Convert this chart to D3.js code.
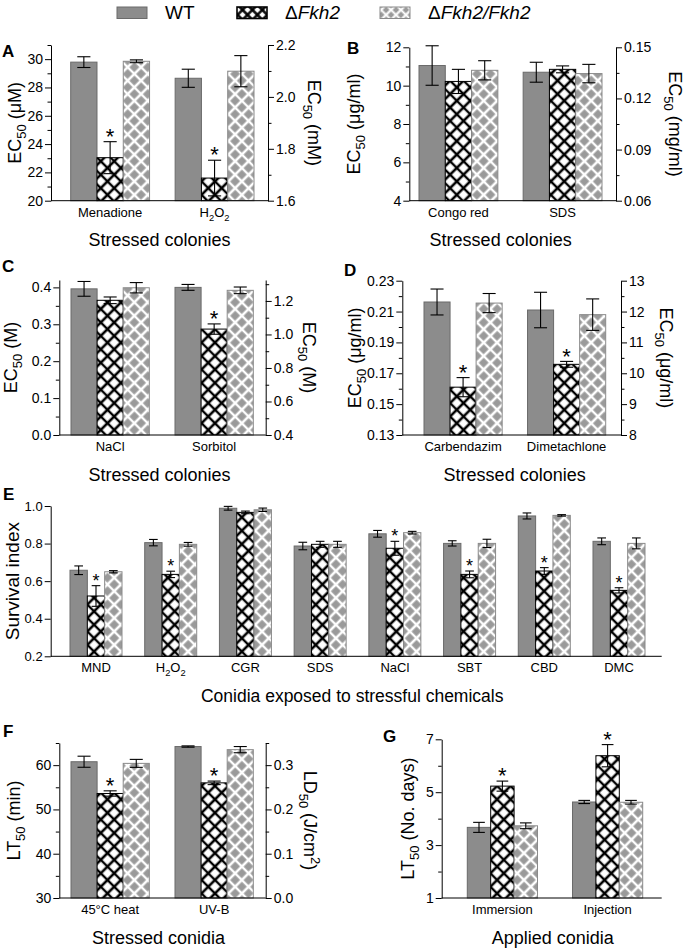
<!DOCTYPE html>
<html>
<head>
<meta charset="utf-8">
<script src="https://cdn.jsdelivr.net/npm/d3@7"></script>
<style>
  body { margin: 0; background: #fff; }
  svg { display: block; font-family: "Liberation Sans", Arial, sans-serif; }
</style>
</head>
<body>
<svg id="chart" width="685" height="952"></svg>
<script>
// ---- data (mean and error per category: WT, dFkh2, dFkh2/Fkh2) ----
const seriesNames = ["WT", "ΔFkh2", "ΔFkh2/Fkh2"];

const catsA = ["Menadione", "H2O2"];
const meanA = [[29.79, 23.04, 29.85], [28.65, 21.6, 29.15]];
const errA  = [[0.38, 1.13, 0.1], [0.64, 1.26, 1.1]];
const sigA  = [1, 1];
const ticksA = [20, 22, 24, 26, 28, 30];
const rTicksA = [1.6, 1.8, 2.0, 2.2];

const catsB = ["Congo red", "SDS"];
const meanB = [[11.05, 10.22, 10.8], [10.7, 10.85, 10.63]];
const errB  = [[1.03, 0.63, 0.5], [0.52, 0.18, 0.48]];
const sigB  = [0, 0];
const ticksB = [4, 6, 8, 10, 12];
const rTicksB = [0.06, 0.09, 0.12, 0.15];

const catsC = ["NaCl", "Sorbitol"];
const meanC = [[0.396, 0.365, 0.399], [0.400, 0.287, 0.392]];
const errC  = [[0.02, 0.009, 0.014], [0.008, 0.014, 0.009]];
const sigC  = [0, 1];
const ticksC = [0.0, 0.1, 0.2, 0.3, 0.4];
const rTicksC = [0.4, 0.6, 0.8, 1.0, 1.2];

const catsD = ["Carbendazim", "Dimetachlone"];
const meanD = [[0.2162, 0.161, 0.2155], [0.211, 0.1758, 0.208]];
const errD  = [[0.0084, 0.0062, 0.0062], [0.0115, 0.0019, 0.0102]];
const sigD  = [1, 1];
const ticksD = [0.13, 0.15, 0.17, 0.19, 0.21, 0.23];
const rTicksD = [8, 9, 10, 11, 12, 13];

const catsE = ["MND", "H2O2", "CGR", "SDS", "NaCl", "SBT", "CBD", "DMC"];
const meanE = [[0.658, 0.521, 0.650], [0.805, 0.636, 0.796], [0.988, 0.966, 0.980], [0.787, 0.796, 0.796],
               [0.852, 0.775, 0.858], [0.801, 0.636, 0.801], [0.947, 0.654, 0.950], [0.812, 0.551, 0.801]];
const errE  = [[0.023, 0.055, 0.006], [0.017, 0.017, 0.01], [0.01, 0.007, 0.009], [0.02, 0.016, 0.016],
               [0.018, 0.037, 0.007], [0.014, 0.018, 0.022], [0.016, 0.018, 0.004], [0.018, 0.014, 0.029]];
const sigE  = [1, 1, 0, 0, 1, 1, 1, 1];
const ticksE = [0.2, 0.4, 0.6, 0.8, 1.0];

const catsF = ["45°C heat", "UV-B"];
const meanF = [[60.77, 53.6, 60.4], [64.2, 56.0, 63.5]];
const errF  = [[1.25, 0.6, 0.9], [0.15, 0.4, 0.7]];
const sigF  = [1, 1];
const ticksF = [30, 40, 50, 60];
const rTicksF = [0.0, 0.1, 0.2, 0.3];

const catsG = ["Immersion", "Injection"];
const meanG = [[3.67, 5.23, 3.73], [4.63, 6.38, 4.62]];
const errG  = [[0.19, 0.19, 0.11], [0.06, 0.42, 0.07]];
const sigG  = [1, 1];
const ticksG = [1, 3, 5, 7];

const markup = { "H2O2": "H_{2}O_{2}" };

const svg = d3.select("#chart");
const defs = svg.append("defs");

function hatch(id, size, bg, fg, sw) {
  const p = defs.append("pattern").attr("id", id)
    .attr("patternUnits", "userSpaceOnUse")
    .attr("width", size).attr("height", size)
    .attr("patternTransform", "rotate(45)");
  p.append("rect").attr("width", size).attr("height", size).attr("fill", bg);
  p.append("path").attr("d", `M0,${size/2}H${size}M${size/2},0V${size}`)
    .attr("stroke", fg).attr("stroke-width", sw);
}
hatch("pX", 9.5, "#fff", "#000", 2.6);
hatch("pC", 9.5, "#9a9a9a", "#fff", 2.6);
hatch("pXs", 7, "#fff", "#000", 2.4);
hatch("pCs", 7, "#9a9a9a", "#fff", 2.2);

const fills = ["#8c8c8c", "url(#pX)", "url(#pC)"];
const strokes = ["#6a6a6a", "#000", "#8a8a8a"];

// text with _{sub} and ^{sup} parts
function rich(t, str) {
  const fs = parseFloat(t.attr("font-size"));
  const parts = str.split(/(_\{[^}]*\}|\^\{[^}]*\})/).filter(s => s.length);
  let shift = 0;
  parts.forEach(s => {
    let txt = s, off = 0, small = false;
    if (s.startsWith("_{")) { txt = s.slice(2, -1); off = 0.3; small = true; }
    else if (s.startsWith("^{")) { txt = s.slice(2, -1); off = -0.4; small = true; }
    const ts = t.append("tspan").text(txt);
    if (off - shift !== 0) ts.attr("dy", ((off - shift) * fs).toFixed(2));
    if (small) ts.attr("font-size", fs * 0.72);
    shift = off;
  });
  return t;
}

function minorsOf(dom, step, majors) {
  if (!step) return [];
  const out = [];
  const n = Math.round((dom[1] - dom[0]) / step + 1e-6);
  for (let i = 0; i <= n; i++) {
    const v = +(dom[0] + i * step).toFixed(6);
    if (!majors.some(m => Math.abs(m - v) < step / 10)) out.push(v);
  }
  return out;
}

function styleAxis(a, fs) {
  a.attr("font-family", null).attr("font-size", fs);
  a.selectAll("path, line").attr("stroke", "#000").attr("stroke-width", 1);
  a.selectAll("text").attr("fill", "#000");
}

const panels = [
  { letter: "A", lx: 2, ly: 57, cats: catsA, mean: meanA, err: errA, sig: sigA,
    x0: 51, x1: 268, b0: 70.7, b1: 254, pad: 0.245, yTop: 45, yBot: 200.7,
    dom: [20, 31], ticks: ticksA, minor: 1, fmt: d3.format("d"),
    rDom: [1.6, 2.2], rTicks: rTicksA, rMinor: 0.1, rFmt: d3.format(".1f"),
    ylab: "EC_{50} (μM)", ylx: 21, rlab: "EC_{50} (mM)", rlx: 308,
    xtitle: "Stressed colonies", tdx: 0 },
  { letter: "B", lx: 347, ly: 54, cats: catsB, mean: meanB, err: errB, sig: sigB,
    x0: 409.3, x1: 616, b0: 419, b1: 602, pad: 0.243, yTop: 47.3, yBot: 200.7,
    dom: [4, 12], ticks: ticksB, minor: 1, fmt: d3.format("d"),
    rDom: [0.06, 0.15], rTicks: rTicksB, rMinor: 0.015, rFmt: d3.format(".2f"),
    ylab: "EC_{50} (μg/ml)", ylx: 360, rlab: "EC_{50} (mg/ml)", rlx: 669,
    xtitle: "Stressed colonies", tdx: -12 },
  { letter: "C", lx: 2, ly: 272, cats: catsC, mean: meanC, err: errC, sig: sigC,
    x0: 59.3, x1: 265.7, b0: 71, b1: 253.3, pad: 0.247, yTop: 280, yBot: 435,
    dom: [0, 0.42], ticks: ticksC, minor: 0.05, fmt: d3.format(".1f"),
    rDom: [0.4, 1.325], rTicks: rTicksC, rMinor: 0.1, rFmt: d3.format(".1f"),
    ylab: "EC_{50} (M)", ylx: 17, rlab: "EC_{50} (M)", rlx: 303,
    xtitle: "Stressed colonies", tdx: -3 },
  { letter: "D", lx: 344, ly: 276, cats: catsD, mean: meanD, err: errD, sig: sigD,
    x0: 402.3, x1: 621, b0: 424, b1: 605.7, pad: 0.245, yTop: 280.7, yBot: 435,
    dom: [0.13, 0.23], ticks: ticksD, minor: 0.01, fmt: d3.format(".2f"),
    rDom: [8, 13], rTicks: rTicksD, rMinor: 0.5, rFmt: d3.format("d"),
    ylab: "EC_{50} (μg/ml)", ylx: 360.5, rlab: "EC_{50} (μg/ml)", rlx: 660,
    xtitle: "Stressed colonies", tdx: 3 },
  { letter: "E", lx: 3, ly: 500, cats: catsE, mean: meanE, err: errE, sig: sigE,
    x0: 50.7, x1: 661.7, b0: 70, b1: 645, pad: 0.304, yTop: 506, yBot: 656.3,
    dom: [0.2, 1.0], ticks: ticksE, minor: 0, fmt: d3.format(".1f"),
    ylab: "Survival index", ylx: 19, ylfs: 19, tickFs: 13, starFs: 18,
    xtitle: "Conidia exposed to stressful chemicals", tdx: -4, tfs: 17.5 },
  { letter: "F", lx: 3, ly: 737, cats: catsF, mean: meanF, err: errF, sig: sigF,
    x0: 59.3, x1: 265.7, b0: 71, b1: 253.3, pad: 0.247, yTop: 743, yBot: 898,
    dom: [30, 65], ticks: ticksF, minor: 5, fmt: d3.format("d"),
    rDom: [0, 0.35], rTicks: rTicksF, rMinor: 0.05, rFmt: d3.format(".1f"),
    ylab: "LT_{50} (min)", ylx: 20, rlab: "LD_{50} (J/cm^{2})", rlx: 304,
    xtitle: "Stressed conidia", tdx: -4 },
  { letter: "G", lx: 383, ly: 742, cats: catsG, mean: meanG, err: errG, sig: sigG,
    x0: 441.7, x1: 661.7, b0: 467.3, b1: 642.7, pad: 0.333, yTop: 739.3, yBot: 898,
    dom: [1, 7], ticks: ticksG, minor: 1, fmt: d3.format("d"),
    ylab: "LT_{50} (No. days)", ylx: 414,
    xtitle: "Applied conidia", tdx: 1 }
];

function drawPanel(p) {
  const g = svg.append("g").attr("class", "panel-" + p.letter);
  const tickFs = p.tickFs || 14;
  const starFs = p.starFs || 22;

  const y = d3.scaleLinear().domain(p.dom).range([p.yBot, p.yTop]);
  const xg = d3.scaleBand().domain(p.cats).range([p.b0, p.b1]).paddingInner(p.pad).paddingOuter(0);
  const xs = d3.scaleBand().domain(d3.range(seriesNames.length)).range([0, xg.bandwidth()]);
  const bw = xs.bandwidth();

  const rows = p.cats.flatMap((c, i) => p.mean[i].map((m, j) => ({
    c, j, m, e: p.err[i][j], sig: j === 1 && p.sig[i]
  })));

  g.selectAll("rect.bar").data(rows).join("rect")
    .attr("class", "bar")
    .attr("x", d => xg(d.c) + xs(d.j))
    .attr("y", d => y(d.m))
    .attr("width", bw)
    .attr("height", d => y(p.dom[0]) - y(d.m))
    .attr("fill", d => fills[d.j])
    .attr("stroke", d => strokes[d.j])
    .attr("stroke-width", 1);

  // error bars
  const cap = bw * 0.5;
  const eb = g.selectAll("g.err").data(rows).join("g").attr("class", "err")
    .attr("transform", d => `translate(${xg(d.c) + xs(d.j) + bw / 2},0)`)
    .attr("stroke", "#000").attr("stroke-width", 1.1);
  eb.append("line").attr("y1", d => y(d.m + d.e)).attr("y2", d => y(d.m - d.e));
  eb.append("line").attr("x1", -cap / 2).attr("x2", cap / 2)
    .attr("y1", d => y(d.m + d.e)).attr("y2", d => y(d.m + d.e));
  eb.append("line").attr("x1", -cap / 2).attr("x2", cap / 2)
    .attr("y1", d => y(d.m - d.e)).attr("y2", d => y(d.m - d.e));

  // significance marks
  g.selectAll("text.star").data(rows.filter(d => d.sig)).join("text")
    .attr("class", "star")
    .attr("x", d => xg(d.c) + xs(d.j) + bw / 2)
    .attr("y", d => y(d.m + d.e) + starFs * 0.28 - 4)
    .attr("text-anchor", "middle")
    .attr("font-size", starFs)
    .text("*");

  // left axis
  const la = g.append("g").attr("transform", `translate(${p.x0},0)`)
    .call(d3.axisLeft(y).tickValues(p.ticks).tickFormat(p.fmt).tickSize(6).tickSizeOuter(0).tickPadding(2));
  styleAxis(la, tickFs);
  const lm = g.append("g").attr("transform", `translate(${p.x0},0)`)
    .call(d3.axisLeft(y).tickValues(minorsOf(p.dom, p.minor, p.ticks)).tickFormat("").tickSize(3.5));
  lm.select(".domain").remove();
  styleAxis(lm, tickFs);

  // right axis
  if (p.rDom) {
    const yr = d3.scaleLinear().domain(p.rDom).range([p.yBot, p.yTop]);
    const ra = g.append("g").attr("transform", `translate(${p.x1},0)`)
      .call(d3.axisRight(yr).tickValues(p.rTicks).tickFormat(p.rFmt).tickSize(6).tickSizeOuter(0).tickPadding(2));
    styleAxis(ra, tickFs);
    const rm = g.append("g").attr("transform", `translate(${p.x1},0)`)
      .call(d3.axisRight(yr).tickValues(minorsOf(p.rDom, p.rMinor, p.rTicks)).tickFormat("").tickSize(3.5));
    rm.select(".domain").remove();
    styleAxis(rm, tickFs);

    const rt = g.append("text")
      .attr("transform", `translate(${p.rlx},${(p.yTop + p.yBot) / 2}) rotate(90)`)
      .attr("text-anchor", "middle").attr("font-size", 18);
    rich(rt, p.rlab);
  }

  // x baseline
  g.append("line").attr("x1", p.x0).attr("x2", p.x1)
    .attr("y1", p.yBot).attr("y2", p.yBot)
    .attr("stroke", "#000").attr("stroke-width", 1);

  // category labels
  p.cats.forEach(c => {
    const t = g.append("text")
      .attr("x", xg(c) + xg.bandwidth() / 2)
      .attr("y", p.yBot + 16)
      .attr("text-anchor", "middle")
      .attr("font-size", 13);
    rich(t, markup[c] || c);
  });

  // axis titles
  g.append("text")
    .attr("x", (p.x0 + p.x1) / 2 + p.tdx)
    .attr("y", p.yBot + 45.5)
    .attr("text-anchor", "middle")
    .attr("font-size", p.tfs || 18)
    .text(p.xtitle);

  const lt = g.append("text")
    .attr("transform", `translate(${p.ylx},${(p.yTop + p.yBot) / 2}) rotate(-90)`)
    .attr("text-anchor", "middle").attr("font-size", p.ylfs || 18);
  rich(lt, p.ylab);

  // panel letter
  g.append("text").attr("x", p.lx).attr("y", p.ly)
    .attr("font-size", 17).attr("font-weight", "bold").text(p.letter);
}

panels.forEach(drawPanel);

// legend
const legendX = [117, 237, 380];
const legendText = [165, 285, 428];
const legendFill = ["#8c8c8c", "url(#pXs)", "url(#pCs)"];
const legendStroke = ["#6a6a6a", "#000", "#8a8a8a"];
const lg = svg.append("g").attr("class", "legend");
seriesNames.forEach((s, i) => {
  lg.append("rect").attr("x", legendX[i]).attr("y", 7).attr("width", 30).attr("height", 11.5)
    .attr("fill", legendFill[i]).attr("stroke", legendStroke[i]).attr("stroke-width", i === 1 ? 1.6 : 1);
  const t = lg.append("text").attr("x", legendText[i]).attr("y", 18.5).attr("font-size", 19);
  if (s.startsWith("Δ")) {
    t.append("tspan").text("Δ");
    t.append("tspan").attr("font-style", "italic").text(s.slice(1));
  } else {
    t.text(s);
  }
});
</script>
</body>
</html>
